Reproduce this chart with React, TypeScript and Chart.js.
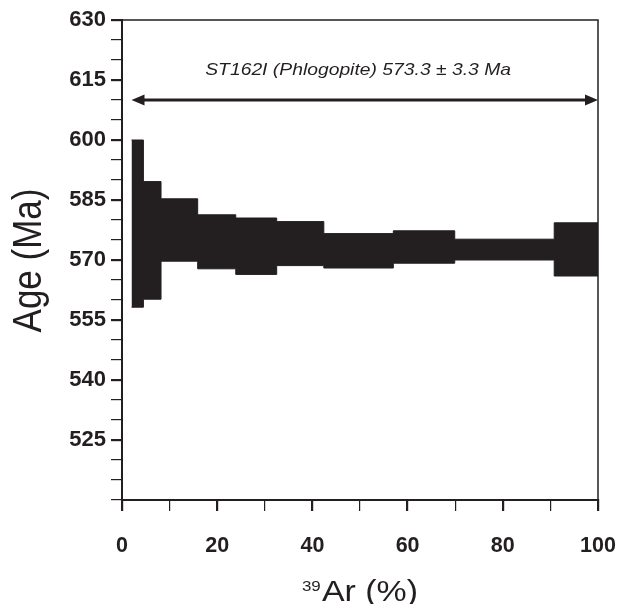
import React, { useEffect, useRef } from "react";
import { Chart, registerables } from "chart.js";

Chart.register(...registerables);

// Cumulative 39Ar (%) where each heating step begins; last step ends at 100
const stepStart = [2, 4.5, 8.2, 15.9, 23.9, 32.5, 42.4, 57.0, 69.9, 90.8];
const stepEndLast = 100;
// Upper and lower bounds (age ± error) of each step, Ma
const ageTop = [600, 589.6, 585.3, 581.3, 580.5, 579.6, 576.6, 577.3, 575.2, 579.3];
const ageBottom = [558.2, 560.2, 569.7, 567.8, 566.4, 568.6, 568.0, 569.2, 570.0, 566.0];

// Plateau arrow and label
const plateauRange = [2, 100];
const plateauArrowAge = 610;
const plateauLabel = "ST162I (Phlogopite) 573.3 ± 3.3 Ma";
const plateauLabelPos = { x: 49.6, age: 617.3 };

const yMin = 510;
const yMax = 630;
const xMin = 0;
const xMax = 100;

const INK = "#231f20";
const FONT = "'Liberation Sans', Arial, sans-serif";
const STRETCH = 1.17;

export default function App() {
  const canvasRef = useRef<HTMLCanvasElement | null>(null);

  useEffect(() => {
    const canvas = canvasRef.current;
    if (!canvas) return;

    const upper = stepStart.map((x, i) => ({ x, y: ageTop[i] }));
    upper.push({ x: stepEndLast, y: ageTop[ageTop.length - 1] });
    const lower = stepStart.map((x, i) => ({ x, y: ageBottom[i] }));
    lower.push({ x: stepEndLast, y: ageBottom[ageBottom.length - 1] });

    const decorPlugin = {
      id: "decor",
      afterDraw(chart: any) {
        const { ctx, chartArea, scales } = chart;
        const xs = scales.x;
        const ys = scales.y;
        ctx.save();
        // frame top & right
        ctx.strokeStyle = INK;
        ctx.lineWidth = 1.5;
        ctx.beginPath();
        ctx.moveTo(chartArea.left, chartArea.top);
        ctx.lineTo(chartArea.right, chartArea.top);
        ctx.lineTo(chartArea.right, chartArea.bottom);
        ctx.stroke();

        // arrow
        const ay = ys.getPixelForValue(plateauArrowAge);
        const ax1 = xs.getPixelForValue(plateauRange[0]);
        const ax2 = xs.getPixelForValue(plateauRange[1]);
        const head = 13;
        const hw = 5.5;
        ctx.lineWidth = 3;
        ctx.beginPath();
        ctx.moveTo(ax1 + head - 2, ay);
        ctx.lineTo(ax2 - head + 2, ay);
        ctx.stroke();
        ctx.fillStyle = INK;
        ctx.beginPath();
        ctx.moveTo(ax1, ay);
        ctx.lineTo(ax1 + head, ay - hw);
        ctx.lineTo(ax1 + head, ay + hw);
        ctx.closePath();
        ctx.fill();
        ctx.beginPath();
        ctx.moveTo(ax2, ay);
        ctx.lineTo(ax2 - head, ay - hw);
        ctx.lineTo(ax2 - head, ay + hw);
        ctx.closePath();
        ctx.fill();

        // plateau label (horizontally stretched like the reference)
        ctx.save();
        ctx.translate(xs.getPixelForValue(plateauLabelPos.x), ys.getPixelForValue(plateauLabelPos.age));
        ctx.scale(STRETCH, 1);
        ctx.font = `italic 16.5px ${FONT}`;
        ctx.textAlign = "center";
        ctx.textBaseline = "middle";
        ctx.fillText(plateauLabel, 0, 0);
        ctx.restore();

        // x axis title with superscript
        const cx = (chartArea.left + chartArea.right) / 2;
        ctx.save();
        ctx.translate(cx, 601);
        ctx.scale(STRETCH, 1);
        ctx.textBaseline = "alphabetic";
        ctx.textAlign = "left";
        const bigFont = `29px ${FONT}`;
        const smallFont = `14.5px ${FONT}`;
        ctx.font = bigFont;
        const wBig = ctx.measureText("Ar (%)").width;
        ctx.font = smallFont;
        const wSmall = ctx.measureText("39").width + 1;
        const startX = -(wBig + wSmall) / 2;
        ctx.fillText("39", startX, -10);
        ctx.font = bigFont;
        ctx.fillText("Ar (%)", startX + wSmall, 0);
        ctx.restore();

        // y axis title
        ctx.save();
        ctx.translate(41, 260.5);
        ctx.rotate(-Math.PI / 2);
        ctx.scale(1, STRETCH);
        ctx.textAlign = "center";
        ctx.textBaseline = "alphabetic";
        ctx.font = `35px ${FONT}`;
        ctx.fillText("Age (Ma)", 0, 0);
        ctx.restore();

        ctx.restore();
      },
    };

    const chart = new Chart(canvas, {
      type: "scatter",
      data: {
        datasets: [
          {
            data: upper,
            showLine: true,
            stepped: "before",
            borderColor: INK,
            borderWidth: 1,
            backgroundColor: INK,
            pointRadius: 0,
            fill: "+1",
          },
          {
            data: lower,
            showLine: true,
            stepped: "before",
            borderColor: INK,
            borderWidth: 1,
            backgroundColor: INK,
            pointRadius: 0,
            fill: false,
          },
        ],
      } as any,
      options: {
        animation: false,
        responsive: false,
        maintainAspectRatio: false,
        layout: { padding: { top: 20, right: 23, left: 0, bottom: 0 } },
        plugins: {
          legend: { display: false },
          tooltip: { enabled: false },
          title: { display: false },
        },
        scales: {
          x: {
            type: "linear",
            min: xMin,
            max: xMax,
            afterFit: (scale: any) => {
              scale.height = 104;
              scale.paddingLeft = 0;
              scale.paddingRight = 0;
            },
            ticks: {
              stepSize: 10,
              autoSkip: false,
              maxRotation: 0,
              padding: 22,
              color: INK,
              font: { family: FONT, size: 21.5, weight: "bold" },
              callback: (v: any) => (Number(v) % 20 === 0 ? String(v) : ""),
            },
            grid: {
              drawOnChartArea: false,
              drawTicks: true,
              tickLength: 11,
              color: INK,
              lineWidth: (c: any) => (c.tick && c.tick.value % 20 === 0 ? 2.2 : 1.2),
            },
            border: { display: true, color: INK, width: 2 },
          },
          y: {
            type: "linear",
            min: yMin,
            max: yMax,
            afterFit: (scale: any) => {
              scale.width = 122;
              scale.paddingTop = 0;
              scale.paddingBottom = 0;
            },
            ticks: {
              stepSize: 5,
              autoSkip: false,
              padding: 5,
              color: INK,
              font: { family: FONT, size: 22, weight: "bold" },
              callback: (v: any) => {
                const n = Number(v);
                return n % 15 === 0 && n !== yMin ? String(n) : "";
              },
            },
            grid: {
              drawOnChartArea: false,
              drawTicks: true,
              tickLength: 11,
              color: INK,
              lineWidth: (c: any) =>
                c.tick && c.tick.value % 15 === 0 && c.tick.value !== yMin ? 2.2 : 1.2,
            },
            border: { display: true, color: INK, width: 2 },
          },
        },
      } as any,
      plugins: [decorPlugin],
    });

    return () => {
      chart.destroy();
    };
  }, []);

  return (
    <div style={{ position: "fixed", left: 0, top: 0, width: 621, height: 604, background: "#fff" }}>
      <canvas ref={canvasRef} width={621} height={604} style={{ display: "block" }} />
    </div>
  );
}
